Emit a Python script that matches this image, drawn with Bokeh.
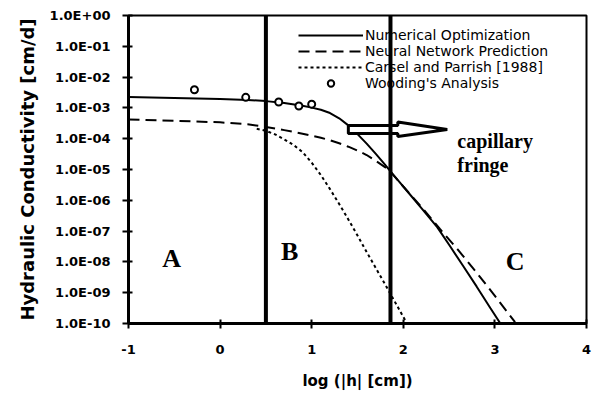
from bokeh.plotting import figure
from bokeh.models import Legend, LegendItem, FixedTicker, Span, CustomJSTickFormatter
from bokeh.core.properties import value
from bokeh.embed import file_html
from bokeh.resources import INLINE

# ---- data ----
x_ticks = [-1, 0, 1, 2, 3, 4]
x_tick_labels = ["-1", "0", "1", "2", "3", "4"]
y_ticks = [1e0, 1e-1, 1e-2, 1e-3, 1e-4, 1e-5, 1e-6, 1e-7, 1e-8, 1e-9, 1e-10]
y_tick_labels = ["1.0E+00", "1.0E-01", "1.0E-02", "1.0E-03", "1.0E-04", "1.0E-05",
                 "1.0E-06", "1.0E-07", "1.0E-08", "1.0E-09", "1.0E-10"]

num_x = [-1.0, -0.5, 0.0, 0.3, 0.5, 0.7, 0.9, 1.0, 1.1, 1.2, 1.3, 1.4, 1.5, 1.6, 1.7,
         1.8, 1.86, 1.95, 2.05, 2.2, 2.37, 2.5, 2.65, 2.8, 2.95, 3.06]
num_k = [2.24e-3, 2.09e-3, 1.95e-3, 1.82e-3, 1.66e-3, 1.45e-3, 1.17e-3, 1.02e-3, 8.7e-4,
         6.8e-4, 4.6e-4, 2.7e-4, 1.41e-4, 6.9e-5, 3.2e-5, 1.45e-5, 8.7e-6, 4.2e-6, 1.86e-6,
         5.5e-7, 1.35e-7, 3.6e-8, 7.6e-9, 1.6e-9, 3.2e-10, 1.0e-10]

nn_x = [-1.0, -0.5, 0.0, 0.3, 0.5, 0.7, 0.9, 1.1, 1.2, 1.3, 1.4, 1.5, 1.6, 1.7, 1.8,
        1.86, 2.0, 2.2, 2.4, 2.6, 2.8, 3.0, 3.22]
nn_k = [4.2e-4, 3.8e-4, 3.4e-4, 2.95e-4, 2.4e-4, 1.9e-4, 1.45e-4, 1.07e-4, 8.9e-5, 7.1e-5,
        5.5e-5, 4.1e-5, 2.95e-5, 1.9e-5, 1.2e-5, 8.4e-6, 2.8e-6, 6.0e-7, 1.17e-7, 2.4e-8,
        4.5e-9, 7.9e-10, 1.1e-10]

cp_x = [0.4, 0.5, 0.6, 0.7, 0.8, 0.9, 1.0, 1.1, 1.2, 1.3, 1.4, 1.5, 1.6, 1.7, 1.8, 1.9, 2.04]
cp_k = [2.1e-4, 1.8e-4, 1.38e-4, 9.5e-5, 6.3e-5, 3.7e-5, 1.66e-5, 6.6e-6, 2.3e-6, 7.6e-7,
        2.4e-7, 7.2e-8, 2.1e-8, 6.3e-9, 1.9e-9, 5.6e-10, 1.0e-10]

wood_x = [-0.28, 0.28, 0.64, 0.86, 1.0]
wood_k = [3.9e-3, 2.2e-3, 1.55e-3, 1.15e-3, 1.32e-3]

zone_bounds = [0.5, 1.86]
zone_labels = ["A", "B", "C"]
zone_label_x = [-0.53, 0.76, 3.22]
zone_label_k = [1.3e-8, 2.2e-8, 1.0e-8]

arrow_x = [1.40, 1.94, 1.94, 2.48, 1.94, 1.94, 1.40]
arrow_k = [2.7e-4, 2.7e-4, 3.5e-4, 2.0e-4, 1.17e-4, 1.48e-4, 1.48e-4]
note_lines = ["capillary", "fringe"]
note_x = [2.59, 2.59]
note_k = [8.7e-5, 1.35e-5]

# ---- figure ----
p = figure(width=595, height=397, x_range=(-1, 4), y_range=(1e-10, 1),
           y_axis_type="log", output_backend="svg", toolbar_location=None,
           min_border_left=128, min_border_right=9, min_border_top=15,
           min_border_bottom=74)
p.xgrid.visible = False
p.ygrid.visible = False
p.outline_line_color = "black"
p.outline_line_width = 2
p.outline_line_alpha = 1

p.xaxis.ticker = FixedTicker(ticks=x_ticks)
p.xaxis.major_label_overrides = dict(zip(x_ticks, x_tick_labels))
p.yaxis.ticker = FixedTicker(ticks=y_ticks)
p.yaxis.formatter = CustomJSTickFormatter(args=dict(labels=y_tick_labels),
                                          code="return labels[Math.round(-Math.log10(tick))];")
for ax in (p.xaxis[0], p.yaxis[0]):
    ax.axis_line_width = 3
    ax.axis_line_color = "black"
    ax.major_tick_line_width = 2
    ax.major_tick_line_color = "black"
    ax.minor_tick_line_color = None
    ax.major_label_text_font = "DejaVu Sans"
    ax.major_label_text_font_style = "bold"
    ax.major_label_text_font_size = "13px"
    ax.major_label_text_color = "black"
    ax.axis_label_text_font = "DejaVu Sans"
    ax.axis_label_text_font_style = "bold"
    ax.axis_label_text_color = "black"
p.xaxis.major_tick_in = 4
p.xaxis.major_tick_out = 5
p.yaxis.major_tick_in = 4
p.yaxis.major_tick_out = 6
p.xaxis.major_label_standoff = 16
p.yaxis.major_label_standoff = 12
p.xaxis.axis_label = "log (|h| [cm])"
p.xaxis.axis_label_text_font_size = "15px"
p.xaxis.axis_label_standoff = 15
p.yaxis.axis_label = "Hydraulic Conductivity [cm/d]"
p.yaxis.axis_label_text_font_size = "18px"
p.yaxis.axis_label_standoff = 9

r_num = p.line(num_x, num_k, line_color="black", line_width=2)
r_nn = p.line(nn_x, nn_k, line_color="black", line_width=2, line_dash="11 6")
r_cp = p.line(cp_x, cp_k, line_color="black", line_width=2, line_dash="3 3")
r_wd = p.scatter(wood_x, wood_k, marker="circle", size=7, line_color="black",
                 line_width=2, fill_color="white")

p.patch(arrow_x, arrow_k, fill_color="white", line_color="black", line_width=3)

p.text(note_x, note_k, text=note_lines, text_font=value("Liberation Serif"),
       text_font_style="bold", text_font_size="20px", text_baseline="middle",
       text_align="left", text_color="black")
p.text(zone_label_x, zone_label_k, text=zone_labels, text_font=value("Liberation Serif"),
       text_font_style="bold", text_font_size="26px", text_baseline="middle",
       text_align="center", text_color="black")

legend = Legend(items=[
    LegendItem(label="Numerical Optimization", renderers=[r_num]),
    LegendItem(label="Neural Network Prediction", renderers=[r_nn]),
    LegendItem(label="Carsel and Parrish [1988]", renderers=[r_cp]),
    LegendItem(label="Wooding's Analysis", renderers=[r_wd]),
], location=(170, 232), padding=0, margin=0, spacing=0, label_height=16,
    glyph_height=16, glyph_width=65, label_standoff=2,
    label_text_font="DejaVu Sans", label_text_font_size="14px",
    label_text_color="black", border_line_color=None, background_fill_alpha=0)
p.add_layout(legend)

for b in zone_bounds:
    p.add_layout(Span(location=b, dimension="height", line_color="black", line_width=4))

open("out.html", "w").write(file_html(p, INLINE))
